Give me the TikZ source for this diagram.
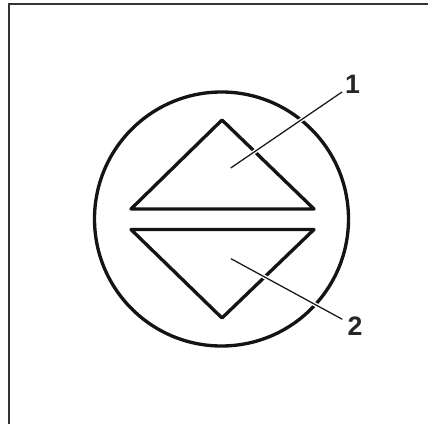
\documentclass[tikz,border=0pt]{standalone}
\usepackage{fontspec}
\setmainfont{Liberation Sans}
\tikzset{
  px/.style={x=0.75pt,y=-0.75pt},
  frameline/.style={draw=black!80,line width=1.2pt},
  heavy/.style={draw=black!92,line width=2.5pt,line join=round},
  leader/.style={draw=black!90,line width=0.95pt},
  halo/.style={draw=white,line width=3pt},
  numlabel/.style={font=\bfseries\fontsize{20}{20}\selectfont,text=black!85,inner sep=0pt}
}
\begin{document}
\begin{tikzpicture}[px]
\useasboundingbox (0,0) rectangle (428,424);
\fill[white] (0,0) rectangle (428,424);
\draw[frameline] (9,424) -- (9,4) -- (428,4);
\node[heavy,circle,minimum size=254*0.75pt,inner sep=0pt] (disc) at (221.5,219) {};
\draw[heavy] (131,209) -- (222,120) -- (314,209) -- cycle;
\draw[heavy] (131,229.5) -- (222,318) -- (314,229.5) -- cycle;
\coordinate (t1) at (230.7,168);
\coordinate (e1) at (342,92);
\coordinate (t2) at (231,258.7);
\coordinate (e2) at (342.3,319.3);
\node[numlabel] (l1) at (352.5,84) {1};
\node[numlabel] (l2) at (355,326) {2};
\draw[halo] (t1) -- (e1);
\draw[halo] (t2) -- (e2);
\draw[leader] (t1) -- (e1);
\draw[leader] (t2) -- (e2);
\end{tikzpicture}
\end{document}
